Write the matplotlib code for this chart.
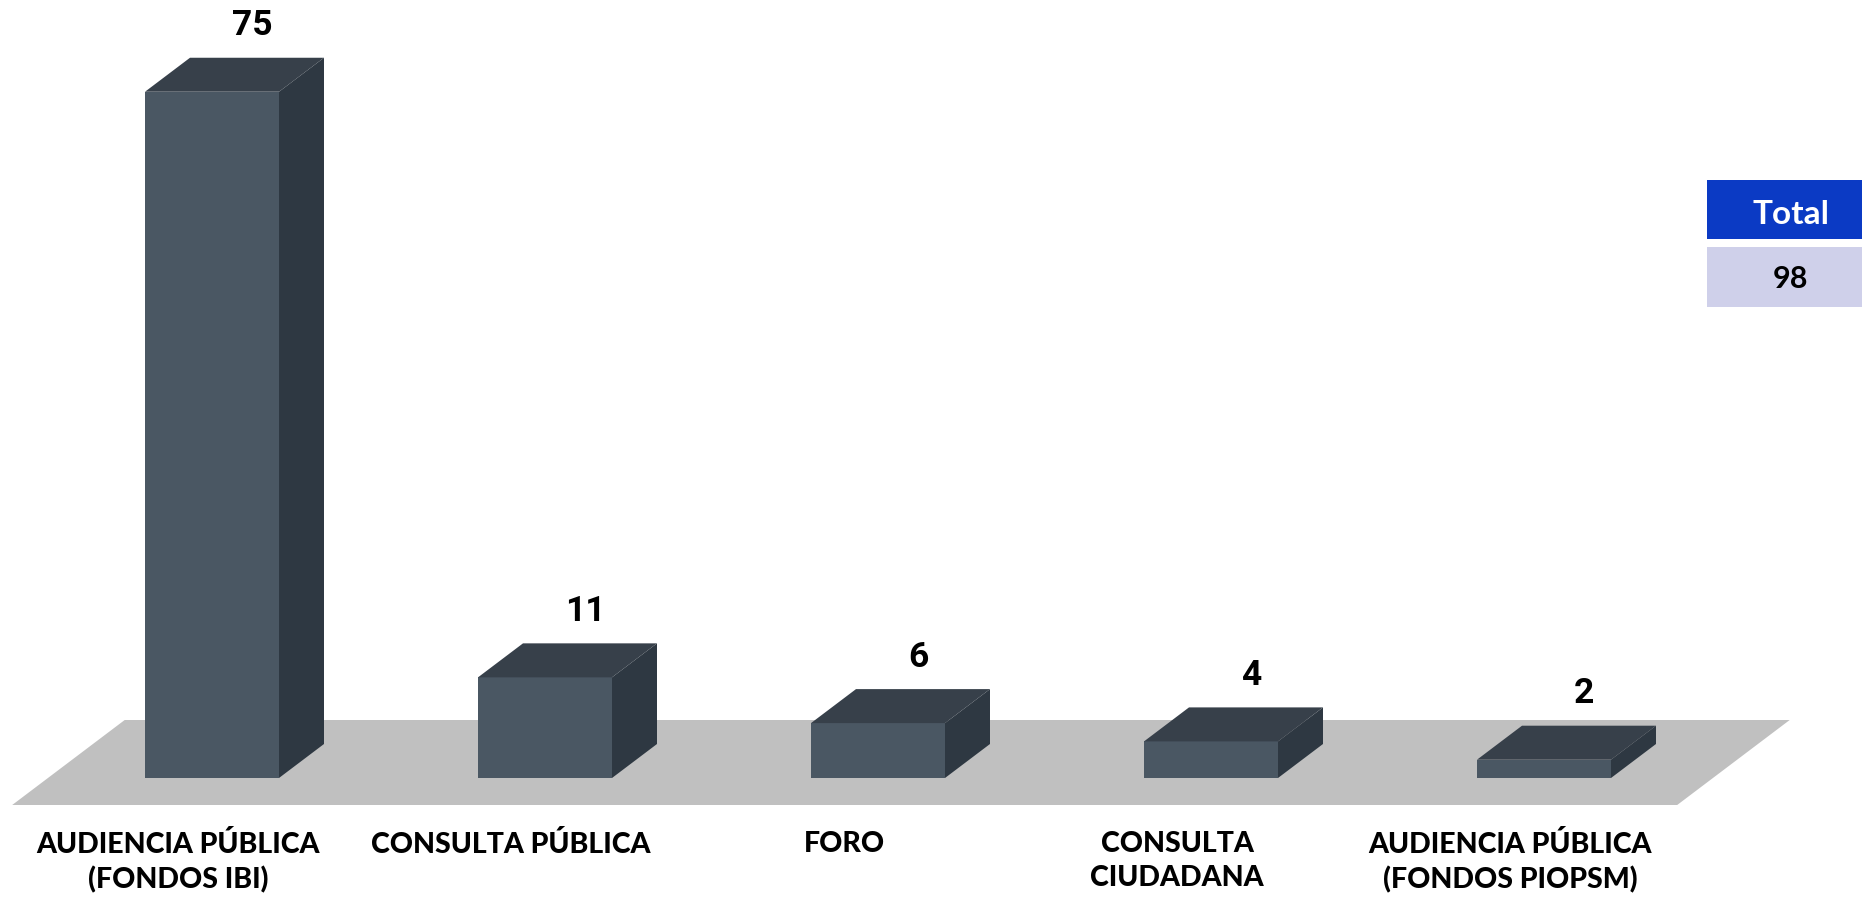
import matplotlib
matplotlib.use("Agg")
import matplotlib.pyplot as plt
from matplotlib.patches import Polygon, Rectangle

categories = ["AUDIENCIA PÚBLICA\n(FONDOS IBI)", "CONSULTA PÚBLICA", "FORO",
              "CONSULTA\nCIUDADANA", "AUDIENCIA PÚBLICA\n(FONDOS PIOPSM)"]
values = [75, 11, 6, 4, 2]
total_label = "Total"
total_value = 98

FRONT = "#4A5763"
TOP = "#37404A"
SIDE = "#2E3842"
FLOOR = "#C0C0C0"

W, H = 1862, 897
fig = plt.figure(figsize=(W / 100, H / 100), dpi=100)
ax = fig.add_axes([0, 0, 1, 1])
ax.set_axis_off()

# scales: category spacing 333 px, value scale 9.15 px/unit, base at y=778 px
px_cat = 333.0
px_val = 9.15
x0_px = 212.0
base_px = 778.0
ax.set_xlim((0 - x0_px) / px_cat, (W - x0_px) / px_cat)
ax.set_ylim((base_px - H) / px_val, base_px / px_val)

bw = 134 / px_cat          # bar width
ddx = 45 / px_cat          # depth offset x
ddy = 34 / px_val          # depth offset y

# floor
n = len(values)
f_front = -27 / px_val
f_left = -0.6
f_right = (n - 1) + 0.60 - 0.2
fd = 2.5
floor = Polygon([(f_left, f_front), (f_right, f_front),
                 (f_right + fd * ddx, f_front + fd * ddy),
                 (f_left + fd * ddx, f_front + fd * ddy)],
                closed=True, facecolor=FLOOR, edgecolor="none", zorder=1)
ax.add_patch(floor)

for i, v in enumerate(values):
    l, r = i - bw / 2, i + bw / 2
    ax.add_patch(Polygon([(l, 0), (r, 0), (r, v), (l, v)], closed=True,
                         facecolor=FRONT, edgecolor="none", zorder=3))
    ax.add_patch(Polygon([(l, v), (r, v), (r + ddx, v + ddy), (l + ddx, v + ddy)],
                         closed=True, facecolor=TOP, edgecolor="none", zorder=3))
    ax.add_patch(Polygon([(r, 0), (r + ddx, ddy), (r + ddx, v + ddy), (r, v)],
                         closed=True, facecolor=SIDE, edgecolor="none", zorder=3))
    ax.text(i + 40 / px_cat, v + ddy + 32 / px_val, str(v), ha="center", va="center",
            fontsize=25.5, fontweight="bold", family="Roboto", color="#000000", zorder=5)
    ax.text(i - 34 / px_cat, -53 / px_val, categories[i], ha="center", va="top",
            fontsize=20.5, fontweight="black", family="Lato", color="#000000",
            linespacing=1.38, zorder=5)

# total box
bx0 = 1707 / W
fig.patches.append(Rectangle((bx0, (H - 239) / H), 1 - bx0, 59 / H,
                             transform=fig.transFigure, facecolor="#0B3AC4",
                             edgecolor="none"))
fig.patches.append(Rectangle((bx0, (H - 307) / H), 1 - bx0, 60 / H,
                             transform=fig.transFigure, facecolor="#CFD0EA",
                             edgecolor="none"))
fig.text(1791 / W, (H - 224) / H, total_label, ha="center", va="baseline",
         fontsize=24, fontweight="bold", family="Lato", color="white")
fig.text(1791 / W, (H - 288) / H, str(total_value), ha="center", va="baseline",
         fontsize=22, fontweight="bold", family="Lato", color="black")

fig.savefig("out.png", dpi=100)
